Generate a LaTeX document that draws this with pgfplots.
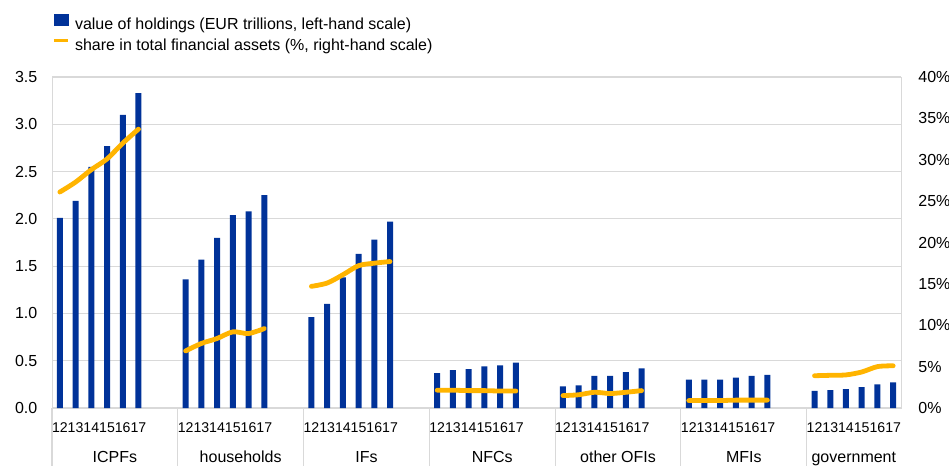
\documentclass[border=0pt]{standalone}
\usepackage{fontspec}
\setmainfont{Liberation Sans}
\usepackage{pgfplots}
\usepackage{pgfplotstable}
\pgfplotsset{compat=1.18}

\definecolor{ecbblue}{HTML}{003299}
\definecolor{ecbyellow}{HTML}{FFB400}
\definecolor{gridgray}{HTML}{D9D9D9}

% x = slot (8 slots per group), val = EUR trillions, share = %
\pgfplotstableread{
x    val   share
0.5  2.01  26.1
1.5  2.19  27.3
2.5  2.55  28.8
3.5  2.77  30.1
4.5  3.10  32.0
5.5  3.33  33.7
6.5  nan   nan
8.5  1.36  6.9
9.5  1.57  7.8
10.5 1.80  8.4
11.5 2.04  9.2
12.5 2.08  9.0
13.5 2.25  9.6
14.5 nan   nan
16.5 0.96  14.7
17.5 1.10  15.1
18.5 1.38  16.1
19.5 1.63  17.2
20.5 1.78  17.5
21.5 1.97  17.7
22.5 nan   nan
24.5 0.37  2.15
25.5 0.40  2.15
26.5 0.41  2.1
27.5 0.44  2.1
28.5 0.45  2.05
29.5 0.48  2.05
30.5 nan   nan
32.5 0.23  1.5
33.5 0.24  1.6
34.5 0.34  1.9
35.5 0.34  1.75
36.5 0.38  1.9
37.5 0.42  2.1
38.5 nan   nan
40.5 0.30  0.9
41.5 0.30  0.9
42.5 0.30  0.9
43.5 0.32  0.95
44.5 0.34  0.95
45.5 0.35  0.95
46.5 nan   nan
48.5 0.18  3.9
49.5 0.19  3.95
50.5 0.20  4.0
51.5 0.22  4.35
52.5 0.25  5.0
53.5 0.27  5.1
}\holdings

\begin{document}
\begin{tikzpicture}[font=\fontsize{12}{14}\selectfont]
\pgfplotsset{
  every axis/.append style={
    scale only axis, width=636.75pt, height=248.25pt,
    xmin=0, xmax=54, clip=false,
    major tick length=0pt,
    unbounded coords=jump,
    axis line style={draw=gridgray},
  }
}
\begin{axis}[
  name=ax,
  ymin=0, ymax=3.5,
  ytick={0,0.5,1,1.5,2,2.5,3,3.5},
  yticklabel={\pgfmathprintnumber[fixed,fixed zerofill,precision=1,assume math mode=true]{\tick}},
  yticklabel style={xshift=-7.5pt},
  ymajorgrids, grid style={gridgray, line width=0.8pt},
  xtick={0.5,1.5,2.5,3.5,4.5,5.5,8.5,9.5,10.5,11.5,12.5,13.5,16.5,17.5,18.5,19.5,20.5,21.5,24.5,25.5,26.5,27.5,28.5,29.5,32.5,33.5,34.5,35.5,36.5,37.5,40.5,41.5,42.5,43.5,44.5,45.5,48.5,49.5,50.5,51.5,52.5,53.5},
  xticklabels={12,13,14,15,16,17,12,13,14,15,16,17,12,13,14,15,16,17,12,13,14,15,16,17,12,13,14,15,16,17,12,13,14,15,16,17,12,13,14,15,16,17},
  xticklabel style={anchor=base, yshift=-18pt, inner sep=0pt, font=\fontsize{10.6}{12.7}\selectfont},
  extra x ticks={4,12,20,28,36,44,51},
  extra x tick labels={ICPFs,households,IFs,NFCs,other OFIs,MFIs,government},
  extra x tick style={xticklabel style={yshift=-22.5pt, font=\fontsize{12}{14}\selectfont}},
]
\addplot[ybar, bar width=4.5pt, fill=ecbblue, draw=none] table[x=x, y=val] {\holdings};
\pgfplotsinvokeforeach{0,8,16,24,32,40,48}{
  \draw[gridgray, line width=0.8pt] (axis cs:#1,0) -- ++(0,-43.5pt);
}
\end{axis}
\begin{axis}[
  axis x line=none,
  axis y line*=right,
  ymin=0, ymax=40,
  ytick={0,5,10,15,20,25,30,35,40},
  yticklabel={\pgfmathprintnumber[assume math mode=true]{\tick}\%},
  yticklabel style={xshift=9.5pt},
  legend style={at={(0,1)}, anchor=south west, yshift=17.2pt,
    draw=none, fill=none, inner sep=0pt, row sep=4.65pt,
    nodes={inner xsep=3.5pt, inner ysep=0pt, text height=8.6pt, text depth=2.5pt}},
  legend cell align=left,
]
\addlegendimage{legend image code/.code={
  \fill[ecbblue] (0,0.2pt) rectangle (10.5pt,8.4pt);
  \path[draw=none, fill=none] (0,0) -- (12.25pt,0);}}
\addlegendentry{value of holdings (EUR trillions, left-hand scale)}
\addplot[smooth, tension=0.5, ecbyellow, line width=3.6pt, line cap=round,
  legend image code/.code={
    \draw[ecbyellow, line width=2.6pt, line cap=butt] (0,4.3pt) -- (10.5pt,4.3pt);
    \path[draw=none, fill=none] (0,0) -- (12.25pt,0);}]
  table[x=x, y=share] {\holdings};
\addlegendentry{share in total financial assets (\%, right-hand scale)}
\end{axis}
\pgfresetboundingbox
\path[use as bounding box] ([shift={(-39pt,-43.5pt)}]ax.south west) rectangle ([shift={(36pt,57.75pt)}]ax.north east);
\end{tikzpicture}
\end{document}
